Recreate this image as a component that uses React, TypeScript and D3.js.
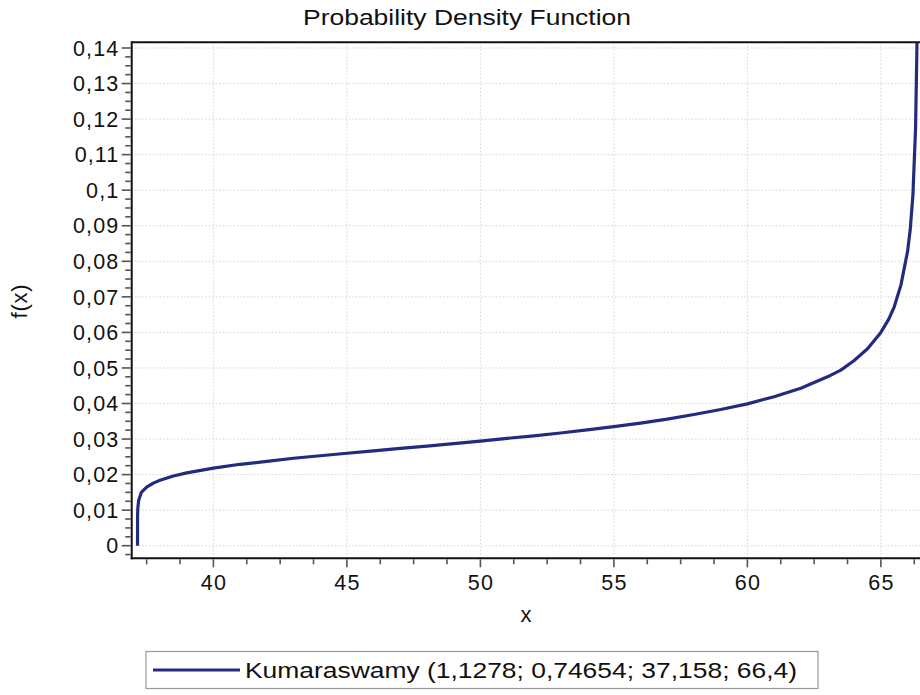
import React from "react";
import * as d3 from "d3";

const xValues = [37.158, 37.16, 37.17, 37.2, 37.3, 37.5, 37.75, 38, 38.5, 39, 40, 41, 42, 43, 44, 45, 46, 47, 48, 49, 50, 51, 52, 53, 54, 55, 56, 57, 58, 59, 60, 61, 62, 63, 63.5, 64, 64.5, 65, 65.3, 65.5, 65.75, 66, 66.1, 66.2, 66.3, 66.35, 66.38];
const densityValues = [0, 0.0085, 0.0106, 0.0127, 0.015, 0.0165, 0.0176, 0.0184, 0.0196, 0.0205, 0.0218, 0.0229, 0.0237, 0.0246, 0.0253, 0.026, 0.0267, 0.0274, 0.028, 0.0287, 0.0294, 0.0302, 0.0309, 0.0317, 0.0326, 0.0335, 0.0345, 0.0356, 0.0369, 0.0383, 0.0399, 0.0419, 0.0443, 0.0475, 0.0494, 0.0521, 0.0554, 0.06, 0.0638, 0.0672, 0.0733, 0.0828, 0.089, 0.0987, 0.1177, 0.1403, 0.165];
const yMajorTicks = [0, 0.01, 0.02, 0.03, 0.04, 0.05, 0.06, 0.07, 0.08, 0.09, 0.1, 0.11, 0.12, 0.13, 0.14];
const yTickLabels = ["0", "0,01", "0,02", "0,03", "0,04", "0,05", "0,06", "0,07", "0,08", "0,09", "0,1", "0,11", "0,12", "0,13", "0,14"];
const xMajorTicks = [40, 45, 50, 55, 60, 65];
const xTickLabels = ["40", "45", "50", "55", "60", "65"];
const title = "Probability Density Function";
const xLabel = "x";
const yLabel = "f(x)";
const legendLabel = "Kumaraswamy  (1,1278; 0,74654; 37,158; 66,4)";

const FONT = "'Liberation Sans', Arial, sans-serif";
const LINE = "#232B7F";

export default function App() {
  const left = 131.7, right = 922, top = 42.3, bottom = 558.3;
  const x = d3.scaleLinear().domain([36.94, 66.54]).range([left, right]);
  const y = d3.scaleLinear().domain([0, 0.14]).range([545.7, 48]);

  const yMinor = d3.range(-0.0025, 0.1401, 0.0025).filter(v => Math.abs(Math.round(v * 100) - v * 100) > 1e-6);
  const xMinor = d3.range(37.5, 66.5, 1.25).filter(v => Math.abs(v % 5) > 1e-6);

  const pts: [number, number][] = xValues.map((v, i) => [v, densityValues[i]]);
  const line = d3.line<[number, number]>().x(d => x(d[0])).y(d => y(d[1]));

  const textStyle = { fontFamily: FONT, fill: "#111" } as const;

  return (
    <svg width={920} height={695} style={{ position: "absolute", left: 0, top: 0, background: "#fff" }}>
      <defs>
        <clipPath id="plotClip">
          <rect x={left} y={top} width={right - left} height={bottom - top} />
        </clipPath>
      </defs>
      <rect x={0} y={0} width={920} height={695} fill="#fff" />
      {/* grid */}
      {yMajorTicks.map(v => (
        <line key={"gy" + v} x1={left} x2={right} y1={y(v)} y2={y(v)} stroke="#d4d4d4" strokeWidth={1} strokeDasharray="1.5,2" />
      ))}
      {xMajorTicks.map(v => (
        <line key={"gx" + v} x1={x(v)} x2={x(v)} y1={top} y2={bottom} stroke="#d4d4d4" strokeWidth={1} strokeDasharray="1.5,2" />
      ))}
      {/* curve */}
      <path d={line(pts) || ""} fill="none" stroke={LINE} strokeWidth={3.2} strokeLinejoin="round" clipPath="url(#plotClip)" />
      {/* frame */}
      <line x1={left} x2={right} y1={top} y2={top} stroke="#111" strokeWidth={2} />
      <line x1={left} x2={left} y1={top - 1} y2={bottom + 1} stroke="#111" strokeWidth={2} />
      <line x1={left - 1} x2={right} y1={bottom} y2={bottom} stroke="#111" strokeWidth={2} />
      {/* y ticks */}
      {yMajorTicks.map((v, i) => (
        <g key={"yt" + v}>
          <line x1={left - 10} x2={left - 1} y1={y(v)} y2={y(v)} stroke="#555" strokeWidth={1.6} />
          <text x={119.3} y={y(v)} dy="0.36em" textAnchor="end" fontSize={21.5} letterSpacing={1.1} style={textStyle}>{yTickLabels[i]}</text>
        </g>
      ))}
      {yMinor.map(v => (
        <line key={"ym" + v} x1={left - 6.5} x2={left - 1} y1={y(v)} y2={y(v)} stroke="#555" strokeWidth={1.6} />
      ))}
      {/* x ticks */}
      {xMajorTicks.map((v, i) => (
        <g key={"xt" + v}>
          <line x1={x(v)} x2={x(v)} y1={bottom + 1} y2={bottom + 9} stroke="#555" strokeWidth={1.6} />
          <text x={x(v) + 0.6} y={590} textAnchor="middle" fontSize={21.5} letterSpacing={1.2} style={textStyle}>{xTickLabels[i]}</text>
        </g>
      ))}
      {xMinor.map(v => (
        <line key={"xm" + v} x1={x(v)} x2={x(v)} y1={bottom + 1} y2={bottom + 6} stroke="#555" strokeWidth={1.6} />
      ))}
      {/* titles */}
      <text x={303} y={25} fontSize={22} textLength={328} lengthAdjust="spacingAndGlyphs" style={textStyle}>{title}</text>
      <text x={526} y={622} textAnchor="middle" fontSize={22} style={textStyle}>{xLabel}</text>
      <text transform="translate(27,301) rotate(-90)" textAnchor="middle" fontSize={22} letterSpacing={0.8} style={textStyle}>{yLabel}</text>
      {/* legend */}
      <rect x={146} y={651.5} width={672} height={37} fill="#fff" stroke="#999" strokeWidth={1.2} />
      <line x1={153} x2={240} y1={670} y2={670} stroke={LINE} strokeWidth={3.2} />
      <text x={245} y={678} fontSize={21.5} textLength={552} lengthAdjust="spacingAndGlyphs" style={textStyle}>{legendLabel}</text>
    </svg>
  );
}
